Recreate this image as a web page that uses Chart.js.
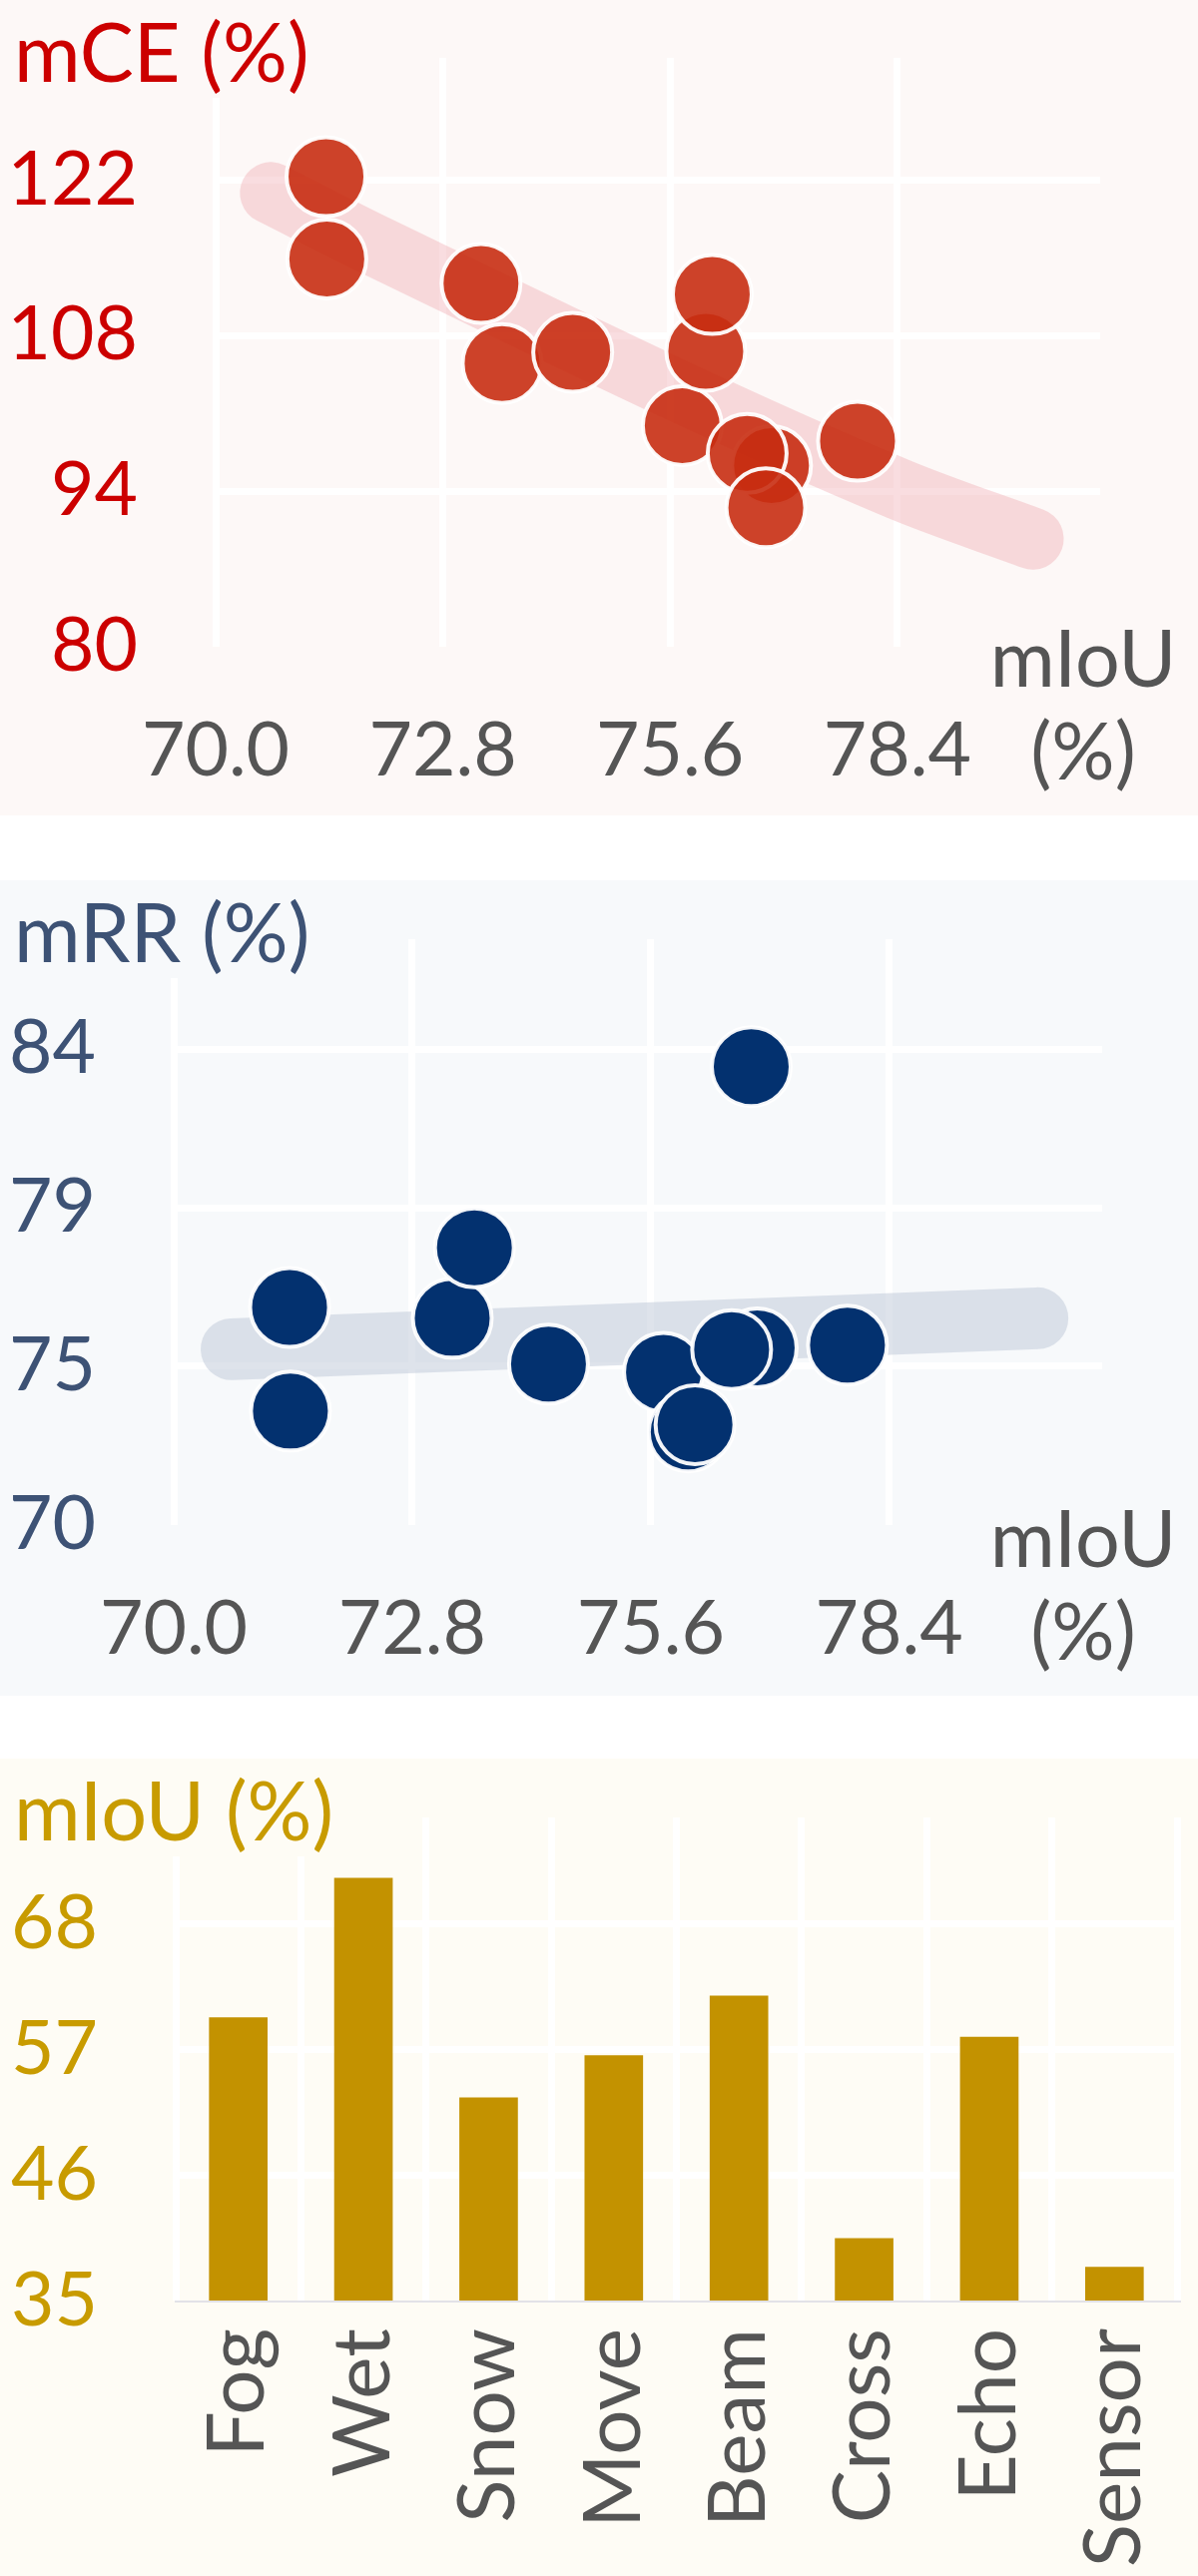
<!DOCTYPE html>
<html>
<head>
<meta charset="utf-8">
<script src="https://cdn.jsdelivr.net/npm/chart.js@4.4.1/dist/chart.umd.min.js"></script>
<style>
  html, body { margin: 0; padding: 0; background: #ffffff; }
  .panel { position: absolute; left: 0; width: 1200px; }
  #p1 { top: 0px; height: 817px; background: #fdf8f7; }
  #p2 { top: 882px; height: 817px; background: #f7f9fb; }
  #p3 { top: 1762px; height: 819px; background: #fefcf5; }
  canvas { display: block; }
</style>
</head>
<body>
<div class="panel" id="p1"><canvas id="c1" width="1200" height="817"></canvas></div>
<div class="panel" id="p2"><canvas id="c2" width="1200" height="817"></canvas></div>
<div class="panel" id="p3"><canvas id="c3" width="1200" height="819"></canvas></div>
<script>
// ---------------- DATA ----------------
const mIoU = [71.36, 71.37, 73.27, 73.53, 74.40, 75.75, 76.04, 76.12, 76.85, 76.55, 76.78, 77.91];
const mCE  = [122.3, 114.9, 112.7, 105.5, 106.5, 99.9, 106.6, 111.7, 96.3, 97.4, 92.5, 98.5];
const mRR  = [76.40, 73.35, 76.08, 78.15, 74.73, 74.49, 72.74, 72.95, 75.21, 75.16, 83.48, 75.29];

const trendCEx = [70.68, 72.04, 78.40, 80.07];
const trendCEy = [120.84, 115.85, 94.24, 89.72];
const trendRRx = [70.68, 80.14];
const trendRRy = [75.17, 76.08];

const corruptions = ['Fog', 'Wet', 'Snow', 'Move', 'Beam', 'Cross', 'Echo', 'Sensor'];
const corruptionMIoU = [59.8, 72.0, 52.8, 56.5, 61.7, 40.5, 58.1, 38.0];

const xTicks = [70.0, 72.8, 75.6, 78.4];
const ceTicks = [80, 94, 108, 122];
const rrTicks = [70, 74.67, 79.33, 84];
const barTicks = [35, 46, 57, 68];

// ---------------- HELPERS ----------------
const FONT = 'Lato';
const tickFont = { family: FONT, size: 75, lineHeight: 1.2 };
const catFont = { family: FONT, size: 80, lineHeight: 1.2 };

const panelText = {
  id: 'panelText',
  beforeDatasetsDraw(chart, args, o) {
    const ctx = chart.ctx;
    ctx.save();
    ctx.font = o.titleSize + 'px ' + FONT;
    ctx.textBaseline = 'alphabetic';
    ctx.textAlign = 'left';
    const w = ctx.measureText(o.title).width;
    ctx.fillStyle = o.bg;
    ctx.fillRect(o.titleX - 4, 0, w + 8, o.titleBaseline + 16);
    ctx.fillStyle = o.titleColor;
    ctx.fillText(o.title, o.titleX, o.titleBaseline);
    if (o.xLabel) {
      ctx.font = o.xLabelSize + 'px ' + FONT;
      ctx.textAlign = 'center';
      ctx.fillStyle = '#555555';
      o.xLabel.forEach((t, i) => ctx.fillText(t, o.xLabelX, o.xLabelBaselines[i]));
    }
    ctx.restore();
  }
};

function fixTicks(list) {
  return s => { s.ticks = list.map(v => ({ value: v })); };
}

function scatterPanel(id, H, area, ys, yTicks, yMin, yMax, trendX, trendY, colors, title) {
  return new Chart(document.getElementById(id), {
    type: 'scatter',
    data: {
      datasets: [
        {
          type: 'line',
          data: trendX.map((x, i) => ({ x: x, y: trendY[i] })),
          borderColor: colors.band,
          borderWidth: 62,
          borderCapStyle: 'round',
          borderJoinStyle: 'round',
          cubicInterpolationMode: 'monotone',
          pointRadius: 0,
          fill: false,
          clip: false,
          order: 2
        },
        {
          data: mIoU.map((x, i) => ({ x: x, y: ys[i] })),
          backgroundColor: colors.point,
          borderColor: 'rgba(255,255,255,0.95)',
          borderWidth: 4,
          pointRadius: 39.5,
          pointHoverRadius: 39.5,
          clip: false,
          order: 1
        }
      ]
    },
    plugins: [panelText],
    options: {
      responsive: false,
      animation: false,
      devicePixelRatio: 1,
      events: [],
      layout: { padding: { left: 0, top: area.top, right: 1200 - area.right, bottom: 0 } },
      plugins: {
        legend: { display: false },
        tooltip: { enabled: false },
        panelText: {
          title: title, titleX: 14, titleBaseline: 82, titleSize: 81,
          titleColor: colors.text, bg: colors.bg,
          xLabel: ['mIoU', '(%)'], xLabelX: 1085, xLabelBaselines: [688, 781], xLabelSize: 79
        }
      },
      scales: {
        x: {
          type: 'linear', min: 70, max: 80.9,
          afterBuildTicks: fixTicks(xTicks),
          afterFit: s => { s.height = H - area.bottom; s.paddingLeft = 0; s.paddingRight = 0; },
          grid: { color: '#ffffff', lineWidth: 7, drawTicks: false },
          border: { display: false },
          ticks: { color: '#555555', font: tickFont, padding: 60, autoSkip: false, maxRotation: 0,
                   callback: v => Number(v).toFixed(1) }
        },
        y: {
          type: 'linear', min: yMin, max: yMax,
          afterBuildTicks: fixTicks(yTicks),
          afterFit: s => { s.width = area.left; s.paddingTop = 0; s.paddingBottom = 0; },
          grid: { color: c => (c.tick && c.tick.value === yTicks[0]) ? 'rgba(0,0,0,0)' : '#ffffff',
                  lineWidth: 7, drawTicks: false },
          border: { display: false },
          ticks: { color: colors.text, font: tickFont, padding: 78, autoSkip: false,
                   callback: v => String(Math.round(v)) }
        }
      }
    }
  });
}

function draw() {
  scatterPanel('c1', 817, { left: 216, right: 1102, top: 58, bottom: 648 },
    mCE, ceTicks, 80, 133, trendCEx, trendCEy,
    { band: 'rgba(236,150,158,0.32)', point: 'rgba(200,45,18,0.9)', text: '#cc0000', bg: '#fdf8f7' },
    'mCE (%)');

  scatterPanel('c2', 817, { left: 174, right: 1104, top: 59, bottom: 646 },
    mRR, rrTicks, 70, 87.23, trendRRx, trendRRy,
    { band: 'rgba(190,200,215,0.5)', point: '#03316f', text: '#3d5275', bg: '#f7f9fb' },
    'mRR (%)');

  const H3 = 819, area3 = { left: 176, right: 1179, top: 59, bottom: 544 };
  new Chart(document.getElementById('c3'), {
    type: 'bar',
    data: {
      labels: corruptions,
      datasets: [{ data: corruptionMIoU, backgroundColor: '#c39200', borderWidth: 0, barThickness: 58 }]
    },
    plugins: [panelText],
    options: {
      responsive: false,
      animation: false,
      devicePixelRatio: 1,
      events: [],
      layout: { padding: { left: 0, top: area3.top, right: 1200 - area3.right, bottom: 0 } },
      plugins: {
        legend: { display: false },
        tooltip: { enabled: false },
        panelText: { title: 'mIoU (%)', titleX: 14, titleBaseline: 82, titleSize: 81,
                     titleColor: '#c89b00', bg: '#fefcf5' }
      },
      scales: {
        x: {
          afterFit: s => { s.height = H3 - area3.bottom; s.paddingLeft = 0; s.paddingRight = 0; },
          grid: { color: '#ffffff', lineWidth: 7, drawTicks: false, offset: true },
          border: { display: true, color: '#e2e2e8', width: 2, z: 1 },
          ticks: { color: '#555555', font: catFont, padding: 27, minRotation: 90, maxRotation: 90, autoSkip: false }
        },
        y: {
          min: 35, max: 77.3,
          afterBuildTicks: fixTicks(barTicks),
          afterFit: s => { s.width = area3.left; s.paddingTop = 0; s.paddingBottom = 0; },
          grid: { color: c => (c.tick && c.tick.value === barTicks[0]) ? 'rgba(0,0,0,0)' : '#ffffff',
                  lineWidth: 7, drawTicks: false },
          border: { display: false },
          ticks: { color: '#c89b00', font: tickFont, padding: 78, autoSkip: false,
                   callback: v => String(Math.round(v)) }
        }
      }
    }
  });
}

if (document.fonts && document.fonts.load) {
  Promise.all([document.fonts.load('75px Lato'), document.fonts.load('81px Lato')]).then(draw, draw);
} else {
  draw();
}
</script>
</body>
</html>
